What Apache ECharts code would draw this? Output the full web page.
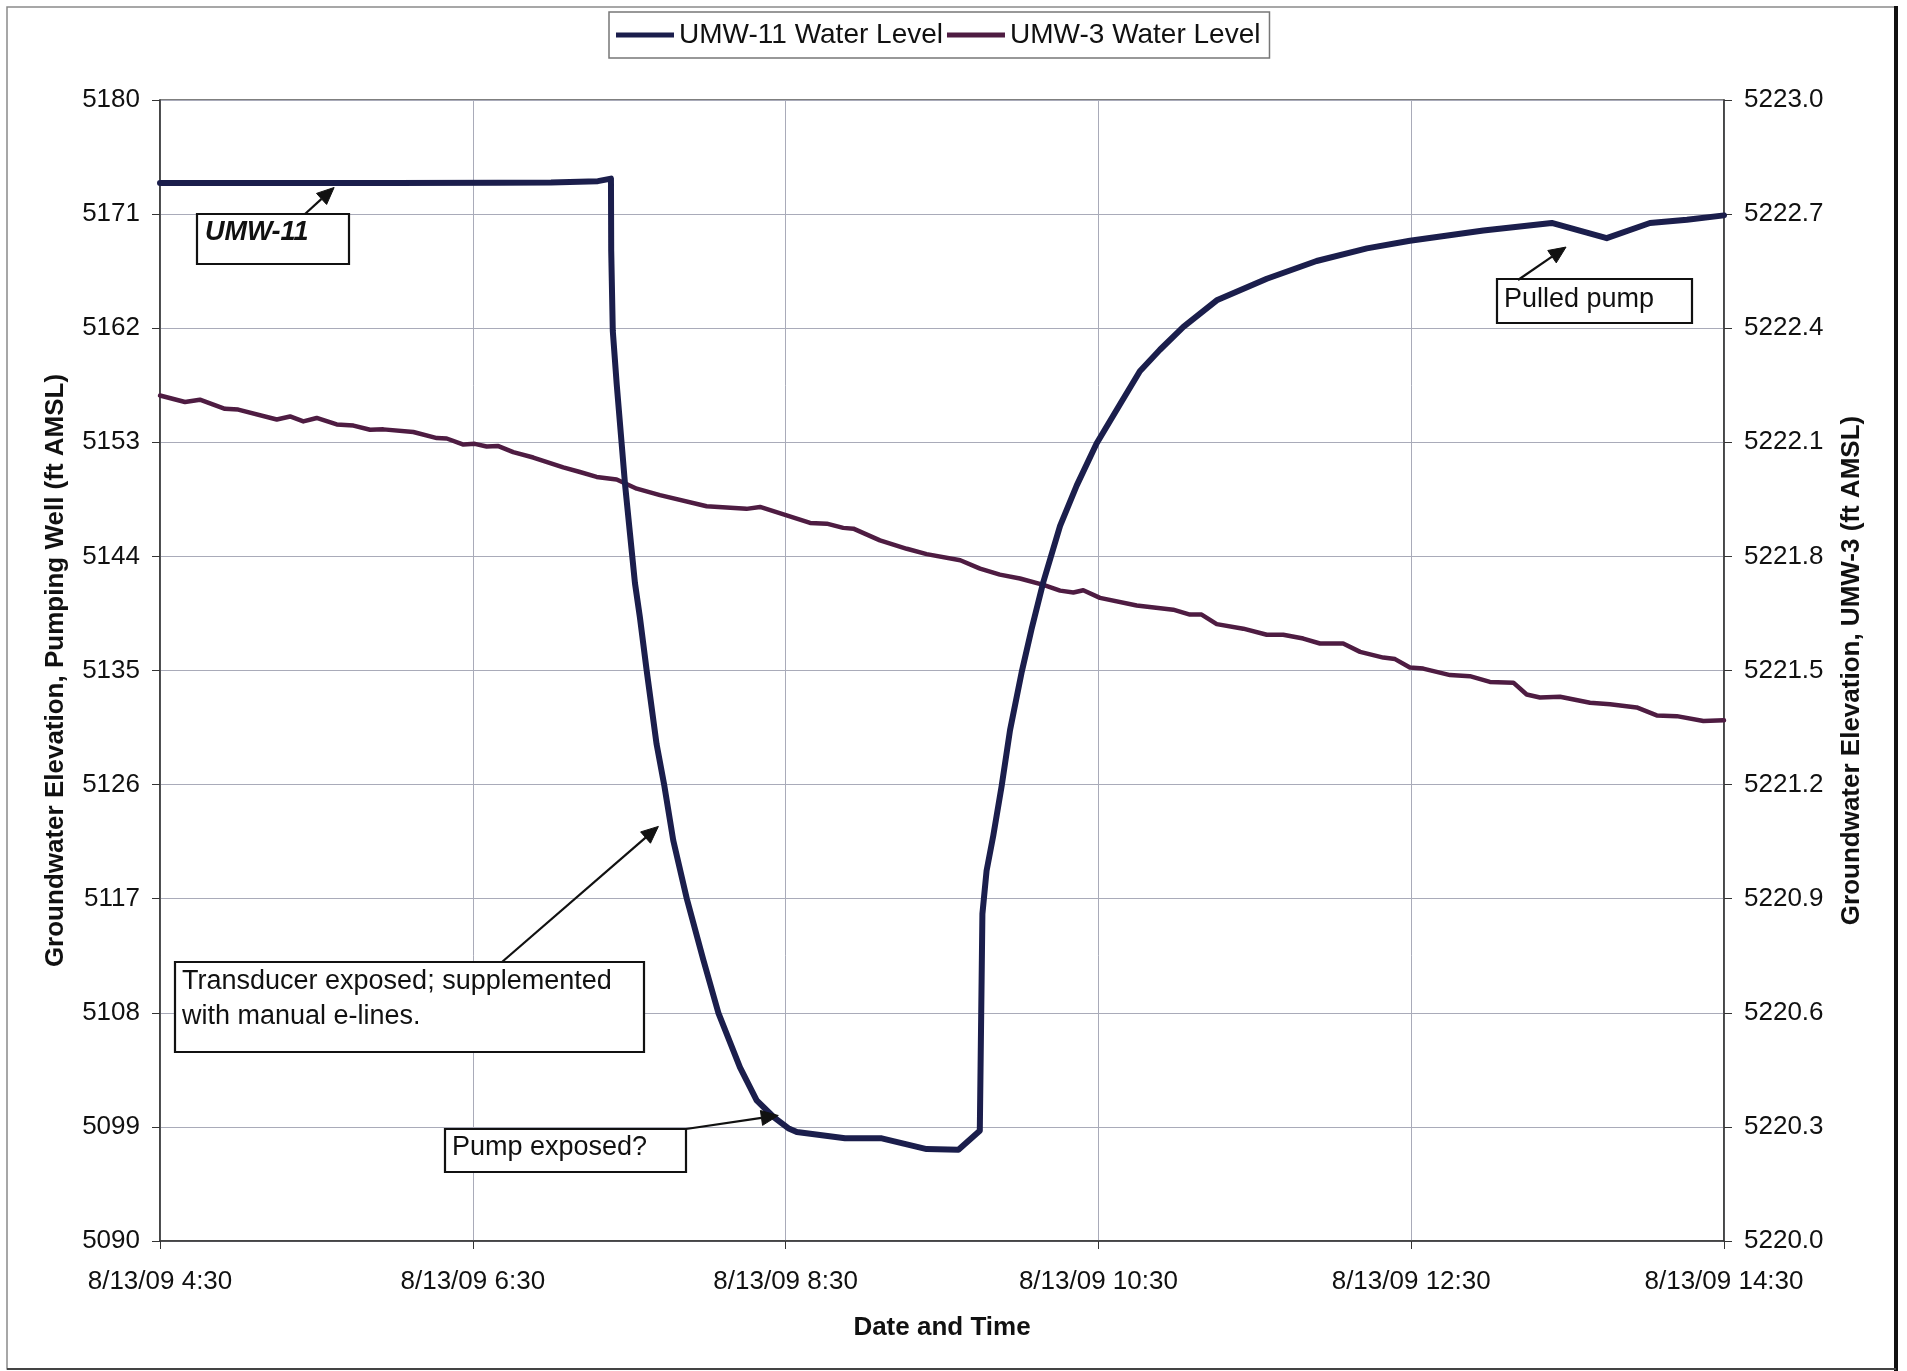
<!DOCTYPE html>
<html>
<head>
<meta charset="utf-8">
<script src="https://cdn.jsdelivr.net/npm/echarts@6/dist/echarts.min.js"></script>
<style>html,body{margin:0;padding:0;background:#fff}#c{width:1907px;height:1371px}</style>
</head>
<body>
<div id="c"></div>
<script>
// ---------- DATA ----------
// x values are clock minutes after midnight on 8/13/09
const xTickLabels = ['8/13/09 4:30', '8/13/09 6:30', '8/13/09 8:30', '8/13/09 10:30', '8/13/09 12:30', '8/13/09 14:30'];
const seriesNames = ['UMW-11 Water Level', 'UMW-3 Water Level'];

const umw11Minutes = [270, 300, 360, 400, 420, 438, 443.0, 443.1, 443.7, 445.2, 447.1, 448.4, 450.3, 452.2, 454.1, 456.7,
  460.5, 463.4, 466.9, 472.1, 478.4, 484.2, 492.5, 498.9, 505.3, 511.0,
  514.3, 532.8, 546.9, 564.1, 576.3, 584.5, 585.5, 587.1, 589.7, 592.9,
  596.1, 600.6, 604.4, 608.9, 615.3, 621.7, 629.3, 638.3, 645.9, 653.6,
  662.6, 675.4, 694.6, 713.7, 733.0, 749.5, 777.7, 803.9, 825.0, 841.6, 855.8, 870];
const umw11Level = [5173.45, 5173.45, 5173.45, 5173.48, 5173.5, 5173.6, 5173.8, 5168.1, 5161.8, 5157.6, 5152.9, 5149.7, 5145.8, 5141.9, 5139.2, 5135.0,
  5129.2, 5126.0, 5121.6, 5117.0, 5112.2, 5108.0, 5103.7, 5101.1, 5099.8, 5098.9,
  5098.6, 5098.1, 5098.1, 5097.25, 5097.2, 5098.7, 5115.8, 5119.2, 5122.0, 5125.9,
  5130.3, 5134.9, 5138.3, 5142.0, 5146.4, 5149.6, 5152.9, 5156.0, 5158.6, 5160.3,
  5162.1, 5164.2, 5165.9, 5167.3, 5168.3, 5168.9, 5169.7, 5170.3, 5169.1, 5170.3, 5170.55, 5170.9];

const umw3Minutes = [270, 279.6, 285.3, 294.9, 300.0, 314.8, 319.9, 325.0, 330.1, 337.8, 344.2, 350.6, 355.7, 367.2, 376.2, 380.0,
  386.4, 390.8, 395.3, 399.8, 405.5, 413.2, 424.7, 431.1, 437.5, 445.2, 452.9, 461.8, 479.7, 495.0, 500.2,
  510.4, 519.4, 525.8, 532.1, 536.0, 546.2, 556.5, 564.1, 577.0, 584.6, 592.2, 599.9, 608.9, 615.3, 620.4,
  624.2, 630.6, 644.7, 658.7, 665.1, 669.6, 675.4, 685.6, 694.6, 700.9, 708.6, 715.0, 723.9, 730.4, 739.3,
  743.8, 749.5, 754.6, 764.9, 772.5, 780.2, 789.2, 794.3, 799.4, 807.1, 818.6, 826.3, 836.5, 844.2, 851.9, 862.1, 870];
const umw3Level = [5222.223, 5222.206, 5222.212, 5222.188, 5222.186, 5222.160, 5222.168, 5222.155, 5222.164, 5222.147, 5222.144, 5222.133, 5222.134, 5222.127, 5222.111, 5222.110,
  5222.094, 5222.096, 5222.089, 5222.090, 5222.074, 5222.060, 5222.034, 5222.022, 5222.009, 5222.002, 5221.978, 5221.961, 5221.932, 5221.925, 5221.930,
  5221.908, 5221.888, 5221.886, 5221.875, 5221.873, 5221.842, 5221.820, 5221.806, 5221.790, 5221.768, 5221.752, 5221.742, 5221.725, 5221.710, 5221.705,
  5221.711, 5221.691, 5221.671, 5221.660, 5221.647, 5221.647, 5221.622, 5221.610, 5221.594, 5221.594, 5221.584, 5221.571, 5221.571, 5221.549, 5221.534,
  5221.530, 5221.508, 5221.505, 5221.488, 5221.485, 5221.470, 5221.468, 5221.437, 5221.429, 5221.431, 5221.415, 5221.411, 5221.403, 5221.382, 5221.380, 5221.367, 5221.369];

// annotation texts and the data points their arrows point at
const noteTexts = ['UMW-11', 'Transducer exposed; supplemented\nwith manual e-lines.', 'Pump exposed?', 'Pulled pump'];
const noteTargetsMinutes = [336.8, 461.2, 507.2, 809.4];
const noteTargetsLevel = [5173.1, 5122.7, 5099.9, 5168.4];

// ---------- CHART ----------
const FONT = '"Liberation Sans", Arial, Helvetica, sans-serif';
const C11 = '#1b1e4c';
const C3 = '#4e1c42';
const chart = echarts.init(document.getElementById('c'), null, { renderer: 'canvas' });

const zip = (a, b) => a.map((v, i) => [v, b[i]]);

const option = {
  animation: false,
  backgroundColor: '#ffffff',
  textStyle: { fontFamily: FONT },
  grid: { left: 160, right: 183, top: 100, bottom: 130, show: true, borderColor: '#555', borderWidth: 1.5 },
  legend: {
    data: seriesNames,
    left: 609, top: 12,
    orient: 'horizontal',
    icon: 'rect', itemWidth: 58, itemHeight: 5, itemGap: 4,
    padding: [9, 9, 9, 7],
    borderColor: '#777', borderWidth: 1.5,
    textStyle: { fontSize: 28, color: '#111', fontFamily: FONT, padding: [4, 0, 0, 0] }
  },
  xAxis: {
    type: 'value', min: 270, max: 870, interval: 120,
    axisLine: { show: true, lineStyle: { color: '#333', width: 1.5 } },
    axisTick: { show: true, length: 8, lineStyle: { color: '#333' } },
    axisLabel: {
      fontSize: 26, color: '#111', margin: 28, fontFamily: FONT, showMinLabel: true, showMaxLabel: true,
      formatter: v => xTickLabels[Math.round((v - 270) / 120)] || ''
    },
    splitLine: { show: true, lineStyle: { color: '#a9abb9', width: 1 } },
    name: 'Date and Time', nameLocation: 'middle', nameGap: 74,
    nameTextStyle: { fontWeight: 'bold', fontSize: 26, color: '#111', fontFamily: FONT, verticalAlign: 'top' }
  },
  yAxis: [
    {
      type: 'value', min: 5090, max: 5180, interval: 9, position: 'left',
      axisLine: { show: true, lineStyle: { color: '#333', width: 1.5 } },
      axisTick: { show: true, length: 8, lineStyle: { color: '#333' } },
      axisLabel: { fontSize: 26, color: '#111', margin: 20, fontFamily: FONT, formatter: v => String(Math.round(v)) },
      splitLine: { show: true, lineStyle: { color: '#a9abb9', width: 1 } },
      name: 'Groundwater Elevation, Pumping Well (ft AMSL)', nameLocation: 'middle', nameGap: 91, nameRotate: 90,
      nameTextStyle: { fontWeight: 'bold', fontSize: 26, color: '#111', fontFamily: FONT }
    },
    {
      type: 'value', min: 5220, max: 5223, interval: 0.3, position: 'right',
      axisLine: { show: true, lineStyle: { color: '#333', width: 1.5 } },
      axisTick: { show: true, length: 8, lineStyle: { color: '#333' } },
      axisLabel: { fontSize: 26, color: '#111', margin: 20, fontFamily: FONT, formatter: v => v.toFixed(1) },
      splitLine: { show: false },
      name: 'Groundwater Elevation, UMW-3 (ft AMSL)', nameLocation: 'middle', nameGap: 115, nameRotate: 90,
      nameTextStyle: { fontWeight: 'bold', fontSize: 26, color: '#111', fontFamily: FONT }
    }
  ],
  series: [
    {
      name: seriesNames[0], type: 'line', yAxisIndex: 0, data: zip(umw11Minutes, umw11Level),
      showSymbol: false, symbol: 'none', smooth: false,
      lineStyle: { color: C11, width: 6, join: 'round', cap: 'round' }, itemStyle: { color: C11 }, z: 3
    },
    {
      name: seriesNames[1], type: 'line', yAxisIndex: 1, data: zip(umw3Minutes, umw3Level),
      showSymbol: false, symbol: 'none', smooth: false,
      lineStyle: { color: C3, width: 4.5, join: 'round', cap: 'round' }, itemStyle: { color: C3 }, z: 2
    }
  ]
};
chart.setOption(option);

// ---------- ANNOTATIONS (layout in pixels, arrow tips from data) ----------
const noteLayout = [
  { box: [197, 214, 152, 50], text: [205, 233], tail: [305, 214], font: 'italic bold 27px ' + FONT, lh: 35 },
  { box: [175, 962, 469, 90], text: [182, 982], tail: [502, 962], font: '27px ' + FONT, lh: 35 },
  { box: [445, 1129, 241, 43], text: [452, 1148], tail: [686, 1129], font: '27px ' + FONT, lh: 35 },
  { box: [1497, 279, 195, 44], text: [1504, 300], tail: [1518, 280], font: '27px ' + FONT, lh: 35 }
];

const graphics = [];
// outer frame
graphics.push({ type: 'rect', shape: { x: 7, y: 7, width: 1888, height: 1362 }, style: { fill: 'none', stroke: '#8a8a8a', lineWidth: 1.5 }, z: 100, silent: true });
graphics.push({ type: 'line', shape: { x1: 1896, y1: 6, x2: 1896, y2: 1371 }, style: { stroke: '#111', lineWidth: 4 }, z: 100, silent: true });
graphics.push({ type: 'line', shape: { x1: 7, y1: 1369, x2: 1896, y2: 1369 }, style: { stroke: '#444', lineWidth: 2 }, z: 100, silent: true });

noteLayout.forEach((n, i) => {
  const [bx, by, bw, bh] = n.box;
  graphics.push({ type: 'rect', shape: { x: bx, y: by, width: bw, height: bh }, style: { fill: '#fff', stroke: '#111', lineWidth: 2.2 }, z: 110, silent: true });
  graphics.push({
    type: 'text', x: n.text[0], y: n.text[1] - n.lh / 2, z: 111, silent: true,
    style: { text: noteTexts[i], font: n.font, fill: '#111', lineHeight: n.lh, verticalAlign: 'top', textVerticalAlign: 'top', align: 'left', textAlign: 'left' }
  });
  const tip = chart.convertToPixel({ xAxisIndex: 0, yAxisIndex: 0 }, [noteTargetsMinutes[i], noteTargetsLevel[i]]);
  const [tx, ty] = n.tail;
  const dx = tip[0] - tx, dy = tip[1] - ty;
  const L = Math.hypot(dx, dy), ux = dx / L, uy = dy / L;
  const hl = 17, hw = 7.5;
  const bxp = tip[0] - ux * hl, byp = tip[1] - uy * hl;
  graphics.push({ type: 'line', shape: { x1: tx, y1: ty, x2: bxp, y2: byp }, style: { stroke: '#111', lineWidth: 2.2 }, z: 112, silent: true });
  graphics.push({
    type: 'polygon', z: 112, silent: true,
    shape: { points: [[tip[0], tip[1]], [bxp - uy * hw, byp + ux * hw], [bxp + uy * hw, byp - ux * hw]] },
    style: { fill: '#111', stroke: '#111', lineWidth: 1 }
  });
});
chart.setOption({ graphic: graphics });
</script>
</body>
</html>
